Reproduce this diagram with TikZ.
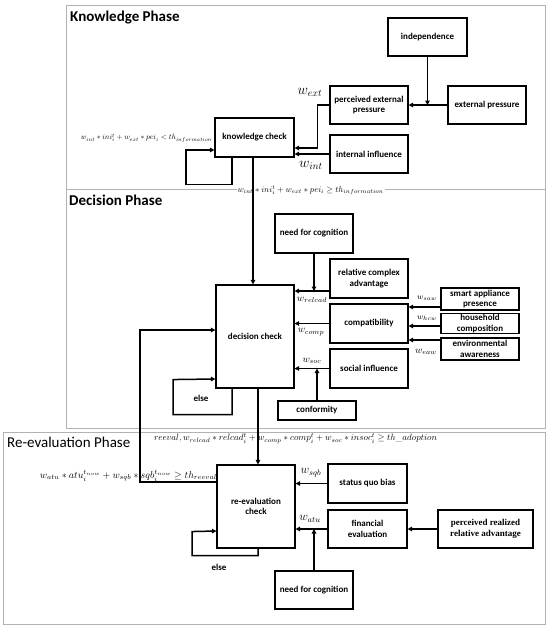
\documentclass[tikz,border=0pt]{standalone}
\usepackage{fontspec}
\usepackage{graphicx}
\setsansfont{Carlito}
\newfontfamily\serifbox{Liberation Serif}
\usetikzlibrary{arrows.meta}
\begin{document}
\begin{tikzpicture}[x=1pt,y=-1pt,
  box/.style={draw=black, line width=1.1pt, align=center, font=\sffamily\bfseries\fontsize{9}{10.5}\selectfont, inner sep=1pt},
  wh/.style 2 args={minimum width=#1pt, minimum height=#2pt},
  arr/.style={line width=1.5pt, -{Triangle[length=4.5pt,width=4.5pt]}},
  phase/.style={draw=gray!60, line width=1pt},
  ttl/.style={font=\sffamily\fontsize{15}{17}\selectfont, anchor=base west, inner sep=0},
  ttlb/.style={ttl, font=\sffamily\bfseries\fontsize{15}{17}\selectfont},
  wl/.style={inner sep=0},
  elsetxt/.style={font=\sffamily\bfseries\fontsize{9}{10.5}\selectfont, inner sep=0}]
\useasboundingbox (0,0) rectangle (550,630);
% phase frames
\draw[phase] (66,5) rectangle (545,189);
\draw[phase] (66,189) rectangle (545,428);
\draw[phase] (3.5,432) rectangle (545,624);
\node[ttlb] (tk) at (70,21) {Knowledge Phase};
\node[ttlb] (td) at (69,205) {Decision Phase};
\node[ttl] (tr) at (7,447) {Re-evaluation Phase};

% Knowledge phase
\node[box, wh={79}{38}] (indep) at (427.5,37) {independence};
\node[box, wh={78}{38}] (extp) at (487,105) {external pressure};
\node[box, wh={78}{38}] (pep) at (369,105) {perceived external\\pressure};
\node[box, wh={79}{39}] (kc) at (254.5,137.5) {knowledge check};
\node[box, wh={78}{38}] (ii) at (369,154) {internal influence};

% Decision phase
\node[box, wh={78}{39}] (nfc1) at (314,233.5) {need for cognition};
\node[box, wh={78}{39}] (rca) at (369,278.5) {relative complex\\advantage};
\node[box, wh={78}{103}] (dc) at (255,336.5) {decision check};
\node[box, wh={78}{39}] (comp) at (369,323.5) {compatibility};
\node[box, wh={78}{39}] (soc) at (369,368.5) {social influence};
\node[box, wh={78}{22}] (sap) at (480,299) {smart appliance\\presence};
\node[box, wh={78}{19}] (hc) at (480,323.5) {household\\composition};
\node[box, wh={78}{22}] (ea) at (480,349) {environmental\\awareness};
\node[box, wh={78}{19}] (conf) at (317,410.5) {conformity};

% Re-evaluation phase
\node[box, wh={78}{83}] (re) at (256,506.5) {re-evaluation\\check};
\node[box, wh={79}{39}] (sqb) at (367.5,483.5) {status quo bias};
\node[box, wh={79}{38}] (fe) at (367.5,529) {financial\\evaluation};
\node[box, wh={95}{38}, font=\serifbox\bfseries\fontsize{9}{10.5}\selectfont] (prra) at (485.5,529) {perceived realized\\relative advantage};
\node[box, wh={78}{38}] (nfc2) at (314,590) {need for cognition};

% condition texts
\node[wl] (c1) at (146.5,138) {\resizebox{131pt}{!}{$w_{int}\ast ini_i^t+w_{ext}\ast pei_i < th_{information}$}};
\node[wl, fill=white, inner xsep=1pt] (c2) at (310.5,190.5) {\resizebox{146pt}{!}{$w_{int}\ast ini_i^t+w_{ext}\ast pei_i \geq th_{information}$}};
\node[wl] (c3) at (295.5,438.5) {\resizebox{283pt}{!}{$reeval, w_{relcad}\ast relcad_i^t+w_{comp}\ast comp_i^t+w_{soc}\ast insoc_i^t \geq th\_adoption$}};
\node[wl] (c4) at (128.5,475.5) {\resizebox{177pt}{!}{$w_{atu}\ast atu_i^{t_{now}}+w_{sqb}\ast sqb_i^{t_{now}} \geq th_{reeval}$}};

% weight labels
\node[wl, font=\fontsize{14}{14}\selectfont] (lext) at (310,92) {$w_{ext}$};
\node[wl, font=\fontsize{14}{14}\selectfont] (lint) at (311,165) {$w_{int}$};
\node[wl, font=\fontsize{10}{10}\selectfont] (lrel) at (312,300) {$w_{relcad}$};
\node[wl, font=\fontsize{10}{10}\selectfont] (lcomp) at (311,332) {$w_{comp}$};
\node[wl, font=\fontsize{10}{10}\selectfont] (lsoc) at (312,361) {$w_{soc}$};
\node[wl, font=\fontsize{8}{8}\selectfont] (lsaw) at (427,298) {$w_{saw}$};
\node[wl, font=\fontsize{8}{8}\selectfont] (lhcw) at (427,318) {$w_{hcw}$};
\node[wl, font=\fontsize{10}{10}\selectfont] (leaw) at (426,352) {$w_{eaw}$};
\node[wl, font=\fontsize{12}{12}\selectfont] (lsqb) at (311,473) {$w_{sqb}$};
\node[wl, font=\fontsize{12}{12}\selectfont] (latu) at (310,519) {$w_{atu}$};

% knowledge connectors
\draw[arr] (indep.south) -- (indep.south |- extp.west);
\draw[arr] (extp.west) -- (pep.east);
\draw[arr] (pep.west) -- ++(-12,0) |- ([yshift=-10.5pt]kc.east);
\draw[arr] (ii.west) -- (ii.west -| kc.east);
\draw[arr] ([xshift=-22.5pt]kc.south) -- ++(0,27) -| (186,150) -- ([yshift=-12.5pt]kc.west);
\draw[arr] ([xshift=-1.5pt]kc.south) -- ([xshift=-2pt]dc.north);

% decision connectors
\draw[arr] (nfc1.south) -- (nfc1.south |- 0,291);
\draw[arr] ([yshift=-12.5pt]rca.west) coordinate (r1) -- (r1 -| dc.east);
\draw[arr] (comp.west) -- (comp.west -| dc.east);
\draw[arr] (soc.west) -- (soc.west -| dc.east);
\draw[arr] (conf.north) -- (conf.north |- soc.west);
\draw[arr] ([yshift=-8pt]sap.west) coordinate (s1) -- (s1 -| comp.east);
\draw[arr] ([yshift=-2.5pt]hc.west) coordinate (s2) -- (s2 -| comp.east);
\draw[arr] ([yshift=9pt]ea.west) coordinate (s3) -- (s3 -| comp.east);
\draw[arr] ([xshift=-23pt]dc.south) -- ++(0,26) -- ++(-59,0) -- ++(0,-35) -- ([yshift=-42.5pt]dc.west);
\node[elsetxt] (else1) at (201,398) {else};
\draw[arr] ([xshift=3pt]dc.south) -- ([xshift=2pt]re.north);
\draw[arr] ([yshift=24.5pt]re.west) -- (140,482) -- (140,330) -- ([yshift=6.5pt]dc.west);

% re-evaluation connectors
\draw[arr] ([xshift=2pt]re.south) -- ++(0,7) -- ++(-66,0) -- ++(0,-24) -- ([yshift=-24.5pt]re.west);
\node[elsetxt] (else2) at (219,567) {else};
\draw[arr] (sqb.west) -- (sqb.west -| re.east);
\draw[arr] (fe.west) -- (fe.west -| re.east);
\draw[arr] (prra.west) -- (fe.east);
\draw[arr] (nfc2.north) -- (nfc2.north |- fe.west);
\end{tikzpicture}
\end{document}
